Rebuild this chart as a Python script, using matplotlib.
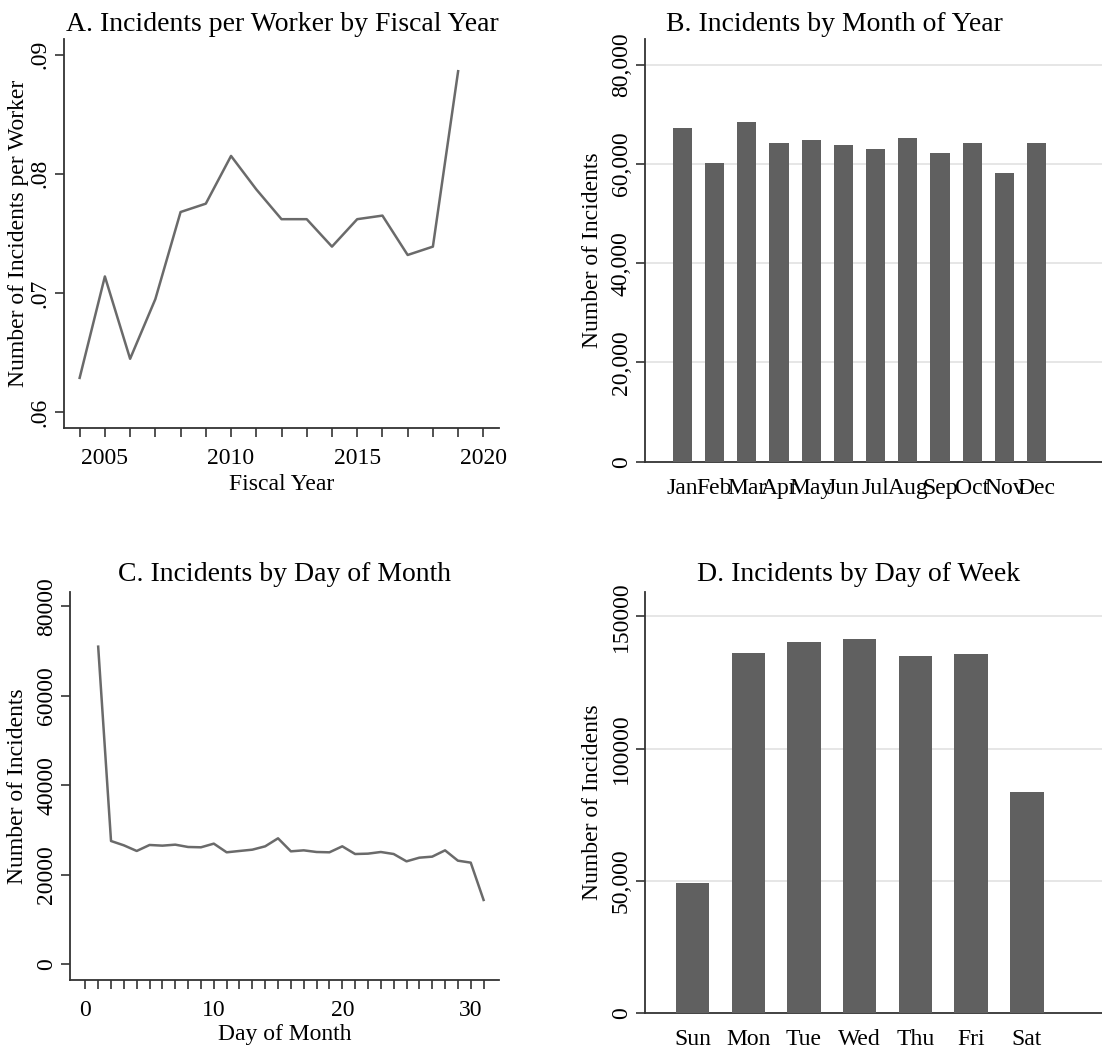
import numpy as np
import matplotlib
matplotlib.use('Agg')
import matplotlib.pyplot as plt

plt.rcParams['font.family'] = ['Liberation Serif', 'DejaVu Serif']

# panel A: incidents per worker by fiscal year
years = list(range(2004, 2020))
per_worker = [0.0629, 0.0714, 0.0645, 0.0695, 0.0768, 0.0775, 0.0815, 0.0787,
              0.0762, 0.0762, 0.0739, 0.0762, 0.0765, 0.0732, 0.0739, 0.0886]

# panel B: incidents by month
months = ['Jan', 'Feb', 'Mar', 'Apr', 'May', 'Jun', 'Jul', 'Aug', 'Sep', 'Oct', 'Nov', 'Dec']
month_counts = [67190, 60130, 68450, 64160, 64760, 63820, 63080, 65170, 62270, 64160, 58240, 64160]

# panel C: incidents by day of month
days = list(range(1, 32))
day_counts = [70980, 27510, 26540, 25280, 26620, 26470, 26690, 26170, 26100, 26920,
              24980, 25280, 25570, 26320, 28110, 25200, 25420, 25050, 24980, 26320,
              24600, 24680, 25050, 24600, 22960, 23780, 24010, 25420, 23110, 22670, 14320]

# panel D: incidents by day of week
weekdays = ['Sun', 'Mon', 'Tue', 'Wed', 'Thu', 'Fri', 'Sat']
weekday_counts = [48980, 136150, 140420, 141330, 135010, 135650, 83530]

W, H = 1102, 1057
fig = plt.figure(figsize=(W / 100, H / 100), dpi=100)

def box(l, r, t, b):
    return [l / W, 1 - b / H, (r - l) / W, (b - t) / H]

line_col = '#6a6a6a'
bar_col = '#606060'
spine_col = '#333333'
grid_col = '#e4e4e4'
fs_title = 20
fs_tick = 17
fs_lab = 17

def style(ax, ylab_px, l, t, b, xlab_top=None):
    for s in ['top', 'right']:
        ax.spines[s].set_visible(False)
    for s in ['left', 'bottom']:
        ax.spines[s].set_color(spine_col)
        ax.spines[s].set_linewidth(1.3)
    ax.tick_params(direction='out', length=6.5, width=1.2, color=spine_col,
                   labelsize=fs_tick, pad=3)
    ax.tick_params(axis='x', pad=8)
    ax.tick_params(axis='y', labelrotation=90)
    for lab in ax.get_yticklabels():
        lab.set_va('center')
    # place the axis titles where the reference has them
    ax.yaxis.set_label_coords((ylab_px - l) / (ax.get_position().width * W), 0.5)
    ax.yaxis.label.set_va('center')
    if xlab_top is not None:
        ax.xaxis.set_label_coords(0.5, 1 - (xlab_top - t) / (b - t))

# A
l, r, t, b = 64, 499, 39, 428
ax = fig.add_axes(box(l, r, t, b))
ax.plot(years, per_worker, color=line_col, lw=1.8)
ax.set_xlim(2003.38, 2020.62)
ax.set_ylim(0.0587, 0.0913)
ax.set_yticks([0.06, 0.07, 0.08, 0.09])
ax.set_yticklabels(['.06', '.07', '.08', '.09'])
ax.set_xticks(range(2004, 2021))
ax.set_xticklabels([str(y) if y % 5 == 0 else '' for y in range(2004, 2021)])
ax.set_xlabel('Fiscal Year', fontsize=fs_lab)
ax.set_ylabel('Number of Incidents per Worker', fontsize=fs_lab)
style(ax, 18.5, l, t, b, xlab_top=474)
fig.text(282 / W, 1 - 31 / H, 'A. Incidents per Worker by Fiscal Year',
         ha='center', va='baseline', fontsize=fs_title)

# B
l, r, t, b = 645, 1102, 39.3, 461.7
ax = fig.add_axes(box(l, r, t, b))
xb = np.arange(len(months))
ax.bar(xb, month_counts, width=0.6, color=bar_col, zorder=3)
ax.set_xlim(-1.16, 13.03)
ax.set_ylim(0, 85120)
ax.set_yticks([0, 20000, 40000, 60000, 80000])
ax.set_yticklabels(['0', '20,000', '40,000', '60,000', '80,000'])
ax.set_xticks(xb)
ax.set_xticklabels(months)
for g in [20000, 40000, 60000, 80000]:
    ax.axhline(g, color=grid_col, lw=1.3, zorder=1)
ax.set_ylabel('Number of Incidents', fontsize=fs_lab)
style(ax, 592.5, l, t, b)
ax.tick_params(axis='x', length=0, pad=12)
fig.text(834 / W, 1 - 31 / H, 'B. Incidents by Month of Year',
         ha='center', va='baseline', fontsize=fs_title)

# C
l, r, t, b = 70.3, 499, 591.7, 980
ax = fig.add_axes(box(l, r, t, b))
ax.plot(days, day_counts, color=line_col, lw=1.8)
ax.set_xlim(-1.17, 32.2)
ax.set_ylim(-3580, 83270)
ax.set_yticks([0, 20000, 40000, 60000, 80000])
ax.set_yticklabels(['0', '20000', '40000', '60000', '80000'])
ax.set_xticks(range(0, 32))
ax.set_xticklabels([str(d) if d % 10 == 0 else '' for d in range(0, 32)])
ax.set_xlabel('Day of Month', fontsize=fs_lab)
ax.set_ylabel('Number of Incidents', fontsize=fs_lab)
style(ax, 17.5, l, t, b, xlab_top=1024)
fig.text(285 / W, 1 - 581 / H, 'C. Incidents by Day of Month',
         ha='center', va='baseline', fontsize=fs_title)

# D
l, r, t, b = 645, 1102, 591.7, 1012.7
ax = fig.add_axes(box(l, r, t, b))
xd = np.arange(len(weekdays))
ax.bar(xd, weekday_counts, width=0.6, color=bar_col, zorder=3)
ax.set_xlim(-0.853, 7.35)
ax.set_ylim(0, 159350)
ax.set_yticks([0, 50000, 100000, 150000])
ax.set_yticklabels(['0', '50,000', '100000', '150000'])
ax.set_xticks(xd)
ax.set_xticklabels(weekdays)
for g in [50000, 100000, 150000]:
    ax.axhline(g, color=grid_col, lw=1.3, zorder=1)
ax.set_ylabel('Number of Incidents', fontsize=fs_lab)
style(ax, 592.5, l, t, b)
ax.tick_params(axis='x', length=0, pad=12)
fig.text(859 / W, 1 - 581 / H, 'D. Incidents by Day of Week',
         ha='center', va='baseline', fontsize=fs_title)

fig.savefig('out.png', dpi=100, facecolor='white')
